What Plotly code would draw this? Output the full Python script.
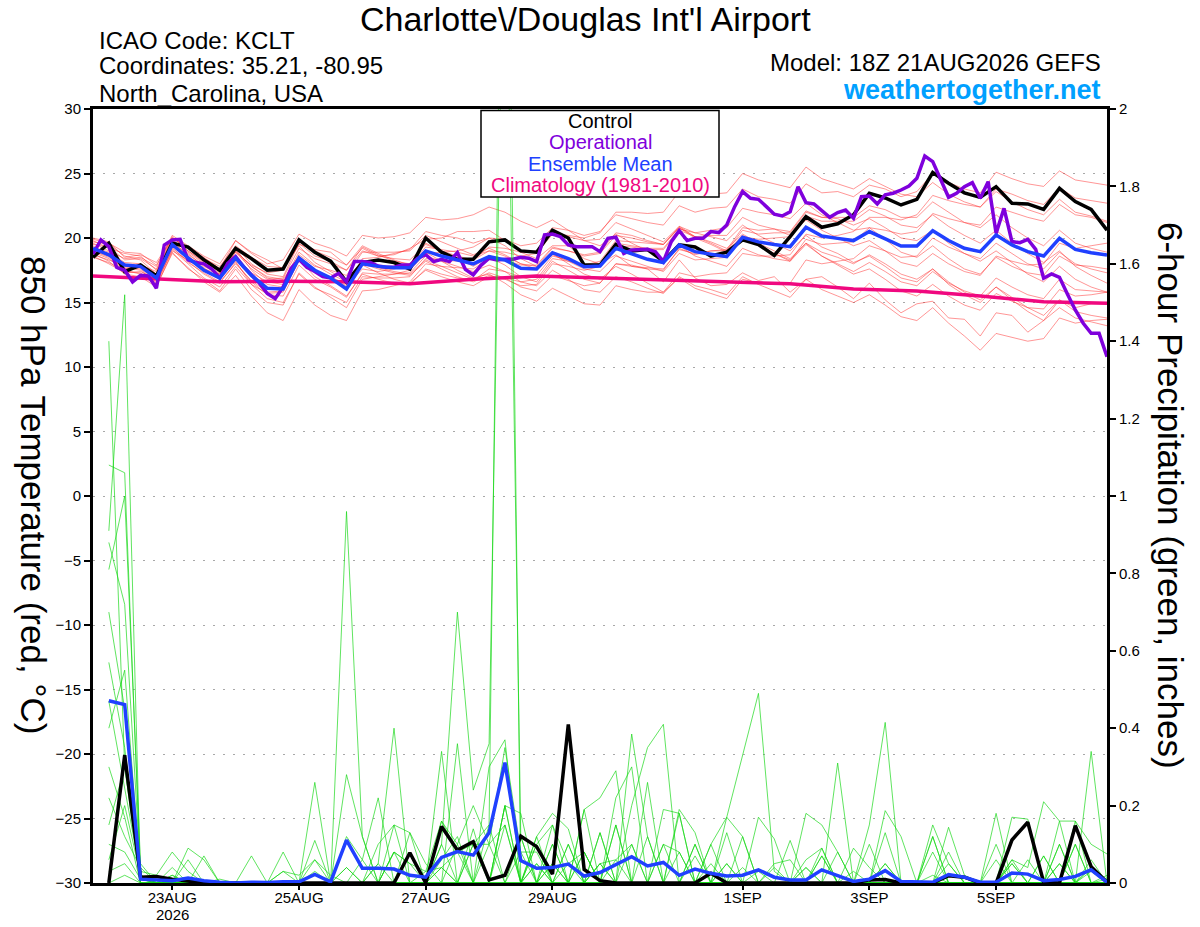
import pandas as pd
import plotly.graph_objects as go

# ── Datos ──────────────────────────────────────────────────────────────────────
run_start = "2026-08-21 18:00"
t6 = pd.date_range(run_start, periods=65, freq="6h")      # temperatura 0-384 h
tp = t6[1:]                                               # precip 6 h, 6-384 h
t3 = pd.date_range(run_start, periods=129, freq="3h")     # corrida operacional
tday = pd.date_range(run_start, periods=17, freq="1D")    # climatología

temp_control = [
    18.5, 19.6, 17.4, 17.9, 17.05, 19.6, 19.3, 18.3, 17.5,
    19.2, 18.4, 17.5, 17.6, 19.85, 18.9, 18.2, 16.6,
    18.1, 18.3, 18.1, 17.6, 20.0, 18.9, 18.35, 18.35,
    19.7, 19.85, 19.0, 18.9, 20.6, 20.0, 17.9, 17.9,
    19.5, 19.0, 19.1, 18.2, 19.46, 19.3, 18.6, 18.9,
    19.85, 19.5, 18.65, 20.1, 21.65, 20.83, 21.1, 21.8,
    23.46, 23.1, 22.56, 23.0, 25.07, 24.24, 23.5, 23.15,
    23.98, 22.69, 22.64, 22.22, 23.85, 22.82, 22.22, 20.6,
]
temp_mean = [
    19.2, 18.7, 17.9, 17.8, 16.9, 19.5, 18.45, 17.5, 16.9,
    18.45, 17.1, 16.1, 16.05, 18.45, 17.5, 16.9, 16.05,
    18.0, 17.8, 17.7, 17.7, 19.0, 18.6, 18.3, 18.0,
    18.55, 18.3, 17.65, 17.6, 18.86, 18.4, 17.78, 17.83,
    19.2, 18.76, 18.35, 18.1, 19.46, 18.94, 18.76, 18.55,
    20.05, 19.7, 19.5, 19.33, 20.83, 20.15, 19.97, 19.8,
    20.5, 19.97, 19.38, 19.38, 20.57, 19.8, 19.2, 18.94,
    20.23, 19.46, 18.94, 18.6, 19.97, 19.12, 18.86, 18.68,
]
temp_oper = [
    18.76, 19.85, 19.33, 17.73, 17.5, 16.6, 17.1, 17.06, 16.1,
    19.46, 19.85, 19.9, 18.3, 18.1, 18.0, 17.6, 16.9,
    18.04, 18.56, 17.78, 17.14, 16.5, 15.7, 15.3, 16.2,
    17.65, 18.35, 17.73, 17.4, 17.0, 16.9, 17.26, 16.6,
    18.17, 18.17, 18.1, 17.83, 17.73, 17.73, 17.9, 17.9,
    18.43, 18.7, 18.17, 18.35, 18.17, 18.87, 17.57, 17.14,
    17.9, 18.43, 18.3, 18.35, 18.35, 18.5, 18.43, 18.17,
    20.24, 20.31, 20.1, 19.46, 19.33, 19.33, 19.33, 18.94,
    19.98, 20.06, 18.8, 19.07, 19.07, 19.12, 18.94, 18.17,
    19.72, 20.57, 19.8, 19.98, 19.98, 20.5, 20.42, 21.01,
    22.43, 23.6, 23.08, 23.0, 22.43, 21.84, 21.71, 22.04,
    23.98, 22.74, 22.64, 22.12, 21.6, 21.97, 22.17, 21.53,
    23.2, 23.26, 22.64, 23.34, 23.47, 23.72, 24.03, 24.63,
    26.36, 25.92, 24.55, 23.16, 23.47, 23.98, 24.29, 23.08,
    24.37, 20.36, 22.3, 19.72, 19.64, 19.9, 19.12, 16.88,
    17.21, 16.95, 15.66, 14.42, 13.39, 12.61, 12.61, 10.8,
]
temp_clim = [17.05, 16.85, 16.6, 16.65, 16.6, 16.45, 16.8, 17.05, 16.9,
             16.8, 16.6, 16.45, 16.05, 15.9, 15.5, 15.05, 14.95]

temp_members = [
    [20.0, 19.7, 18.5, 18.7, 18.1, 20.0, 19.3, 18.5, 17.6,
     19.8, 18.9, 18.3, 17.6, 19.5, 19.1, 18.9, 17.9,
     19.2, 18.6, 18.7, 19.2, 19.9, 20.0, 20.5, 20.5,
     20.6, 19.8, 18.9, 18.4, 19.4, 19.4, 18.4, 18.0,
     18.7, 17.8, 17.6, 16.6, 18.3, 16.9, 16.3, 16.4,
     17.3, 16.7, 17.0, 15.8, 16.8, 17.0, 16.2, 15.3,
     16.5, 15.2, 14.2, 14.9, 15.1, 13.8, 13.7, 12.4,
     14.2, 14.0, 12.7, 13.6, 15.2, 14.6, 14.9, 14.9],
    [18.8, 18.2, 17.2, 17.0, 16.2, 18.9, 17.6, 16.8, 15.9,
     17.6, 16.0, 15.0, 14.8, 17.3, 16.2, 15.4, 14.6,
     16.8, 17.0, 17.2, 17.5, 18.8, 18.9, 19.0, 19.3,
     20.0, 19.9, 19.4, 19.6, 20.8, 20.6, 20.2, 20.5,
     21.8, 21.5, 21.2, 21.0, 22.5, 22.0, 22.3, 22.4,
     23.8, 23.2, 23.0, 22.7, 24.2, 23.5, 23.6, 23.2,
     24.1, 23.8, 23.2, 23.6, 25.0, 24.3, 23.8, 23.5,
     25.1, 24.6, 24.2, 24.0, 25.2, 24.5, 24.3, 24.1],
    [19.5, 19.3, 18.3, 18.4, 17.6, 20.1, 19.0, 18.1, 17.4,
     19.3, 18.0, 17.2, 17.0, 19.6, 18.6, 18.2, 17.5,
     19.3, 18.7, 18.2, 18.0, 19.6, 19.0, 18.4, 17.8,
     18.5, 17.9, 17.0, 16.6, 18.2, 17.5, 16.8, 16.5,
     18.0, 17.9, 17.6, 17.5, 19.2, 18.7, 19.0, 19.1,
     20.8, 20.6, 20.7, 20.5, 22.1, 21.6, 21.5, 21.0,
     21.5, 20.8, 20.0, 19.8, 20.6, 19.6, 18.8, 18.2,
     19.0, 18.1, 17.2, 16.6, 17.8, 16.8, 16.2, 15.8],
    [18.9, 18.4, 17.5, 17.2, 16.3, 18.8, 17.7, 16.6, 15.8,
     17.1, 15.5, 14.2, 13.6, 16.0, 14.8, 14.0, 13.6,
     15.9, 16.0, 16.3, 16.6, 18.0, 17.8, 17.7, 17.6,
     18.4, 18.3, 17.9, 17.9, 19.3, 19.0, 18.6, 18.8,
     20.2, 20.0, 19.7, 19.5, 20.9, 20.4, 20.1, 19.8,
     21.0, 20.2, 19.6, 19.0, 20.2, 19.3, 18.8, 18.1,
     18.6, 17.8, 16.9, 16.6, 17.6, 16.4, 15.6, 15.0,
     16.2, 15.4, 14.6, 14.0, 15.2, 14.3, 14.0, 13.8],
    [19.6, 19.0, 18.4, 18.5, 17.8, 20.2, 19.4, 18.6, 18.0,
     19.8, 18.8, 18.0, 18.3, 20.3, 19.6, 19.2, 18.6,
     20.2, 20.0, 20.1, 20.4, 21.6, 21.4, 21.5, 21.8,
     22.4, 22.0, 21.3, 20.8, 21.4, 20.6, 19.8, 19.4,
     20.3, 19.6, 19.0, 18.4, 19.4, 18.6, 18.2, 17.8,
     19.2, 18.7, 18.4, 18.2, 19.9, 19.5, 19.6, 19.7,
     20.8, 20.6, 20.3, 20.5, 21.9, 21.5, 21.2, 21.0,
     22.4, 22.0, 21.6, 21.3, 22.6, 21.8, 21.6, 21.2],
    [19.0, 18.5, 17.7, 17.5, 16.5, 19.2, 18.2, 17.2, 16.5,
     18.1, 16.6, 15.6, 15.5, 17.9, 16.8, 16.2, 15.4,
     17.3, 17.2, 17.2, 17.3, 18.6, 18.2, 17.8, 17.4,
     17.9, 17.4, 16.6, 16.3, 17.5, 16.8, 16.0, 15.8,
     17.0, 16.6, 16.1, 15.7, 17.0, 16.3, 16.0, 15.6,
     17.0, 16.4, 15.9, 15.4, 16.8, 16.0, 15.5, 15.0,
     15.6, 14.8, 13.9, 13.6, 14.6, 13.4, 12.4, 11.3,
     12.6, 12.3, 12.0, 12.2, 13.8, 13.4, 13.6, 13.7],
    [19.8, 19.2, 18.8, 18.6, 17.5, 19.9, 18.9, 18.0, 17.5,
     19.0, 17.8, 16.9, 16.6, 18.9, 17.9, 17.2, 16.6,
     18.3, 17.7, 17.4, 17.2, 18.3, 17.8, 17.3, 16.8,
     17.3, 16.9, 16.2, 15.9, 17.1, 16.7, 16.3, 16.5,
     18.0, 17.8, 17.7, 17.6, 19.1, 18.8, 19.0, 19.0,
     20.6, 20.3, 20.4, 20.4, 22.0, 21.6, 21.6, 21.6,
     22.5, 22.2, 21.6, 21.6, 22.8, 22.0, 21.2, 20.8,
     21.8, 20.8, 20.0, 19.4, 20.6, 19.6, 19.2, 18.9],
    [18.6, 18.0, 17.3, 17.4, 16.8, 19.8, 19.0, 18.2, 17.6,
     19.2, 17.5, 16.4, 16.2, 18.4, 17.0, 16.3, 15.5,
     17.2, 16.8, 16.5, 16.4, 17.6, 17.2, 16.9, 16.7,
     17.6, 17.4, 17.0, 17.1, 18.6, 18.3, 17.9, 18.0,
     19.6, 19.4, 19.2, 19.2, 20.7, 20.4, 20.6, 20.8,
     22.3, 22.0, 21.8, 21.5, 22.7, 21.8, 21.2, 20.6,
     20.8, 19.9, 18.9, 18.5, 19.4, 18.4, 17.6, 17.2,
     18.5, 17.8, 17.3, 17.1, 18.6, 17.9, 17.8, 17.6],
    [19.3, 18.9, 18.1, 18.0, 17.2, 19.6, 18.8, 17.8, 17.2,
     18.9, 17.6, 16.8, 16.9, 19.2, 18.4, 18.0, 17.5,
     19.0, 18.6, 18.4, 18.3, 19.5, 19.0, 18.6, 18.3,
     19.0, 18.9, 18.6, 18.8, 20.3, 20.2, 20.0, 20.4,
     22.0, 22.0, 21.9, 22.0, 23.6, 23.2, 23.4, 23.5,
     25.0, 24.5, 24.2, 23.9, 25.5, 24.6, 24.2, 23.8,
     24.6, 24.0, 23.4, 23.2, 24.3, 23.4, 22.8, 22.4,
     23.6, 22.8, 22.2, 21.8, 23.0, 22.0, 21.7, 21.3],
    [19.4, 18.6, 17.6, 17.9, 17.0, 19.3, 18.1, 17.3, 16.6,
     18.0, 16.7, 15.8, 15.9, 18.2, 17.3, 16.9, 16.3,
     18.4, 18.5, 18.8, 19.1, 20.5, 20.2, 20.0, 19.6,
     20.0, 19.4, 18.4, 17.8, 18.8, 18.0, 17.2, 16.8,
     17.8, 17.2, 16.5, 15.8, 16.9, 16.1, 15.7, 15.3,
     16.8, 16.5, 16.4, 16.5, 18.3, 18.0, 18.2, 18.4,
     19.4, 19.0, 18.5, 18.6, 20.0, 19.3, 18.8, 18.4,
     19.6, 18.8, 18.0, 17.6, 18.9, 18.0, 17.6, 17.3],
    [18.7, 18.3, 17.8, 17.6, 16.6, 19.0, 18.3, 17.6, 17.2,
     18.9, 17.9, 17.3, 17.5, 19.8, 19.0, 18.5, 17.9,
     19.4, 18.8, 18.3, 17.9, 18.9, 18.2, 17.5, 16.9,
     17.2, 16.5, 15.6, 15.1, 16.1, 15.5, 14.9, 14.8,
     16.3, 16.0, 15.8, 15.8, 17.3, 17.0, 17.2, 17.3,
     18.8, 18.6, 18.6, 18.7, 20.3, 20.0, 20.2, 20.5,
     21.6, 21.6, 21.4, 21.8, 23.3, 22.9, 22.6, 22.4,
     23.8, 23.4, 22.9, 22.6, 23.9, 23.1, 22.9, 22.7],
    [19.1, 18.8, 18.0, 17.7, 16.7, 19.4, 18.6, 17.7, 16.8,
     18.2, 16.4, 15.3, 15.0, 17.2, 16.1, 15.6, 15.0,
     17.0, 16.9, 16.9, 17.0, 18.4, 18.3, 18.2, 18.3,
     19.3, 19.2, 18.9, 19.0, 20.4, 20.1, 19.8, 19.9,
     21.2, 20.7, 20.2, 19.7, 20.9, 20.1, 19.6, 19.0,
     20.2, 19.4, 18.8, 18.2, 19.5, 18.6, 18.0, 17.4,
     18.1, 17.4, 16.6, 16.3, 17.4, 16.5, 15.9, 15.5,
     16.9, 16.2, 15.6, 15.3, 16.8, 16.0, 15.9, 15.8],
    [19.7, 19.5, 18.6, 18.3, 17.2, 19.7, 18.7, 17.9, 17.3,
     18.6, 17.3, 16.6, 16.4, 18.7, 17.8, 17.5, 17.1,
     18.9, 18.9, 18.9, 19.0, 20.2, 19.7, 19.2, 18.7,
     19.2, 18.7, 18.0, 17.8, 19.2, 19.0, 18.7, 18.9,
     20.4, 20.2, 19.8, 19.5, 20.8, 20.0, 19.5, 18.9,
     20.1, 19.4, 18.8, 18.3, 19.6, 18.9, 18.5, 18.0,
     18.7, 18.0, 17.2, 16.8, 17.6, 16.6, 15.8, 15.2,
     16.2, 15.2, 14.3, 13.6, 14.6, 13.8, 13.5, 13.2],
    [18.5, 18.1, 17.4, 17.3, 16.4, 19.1, 18.0, 16.9, 16.2,
     17.8, 16.4, 15.7, 15.8, 18.3, 17.4, 17.0, 16.4,
     18.0, 17.6, 17.3, 17.1, 18.2, 17.6, 17.0, 16.6,
     17.1, 16.8, 16.3, 16.4, 18.0, 17.8, 17.5, 17.8,
     19.4, 19.3, 19.1, 19.1, 20.6, 20.1, 20.2, 20.2,
     21.6, 21.0, 20.7, 20.2, 21.4, 20.6, 20.0, 19.4,
     19.8, 19.0, 18.1, 17.8, 18.8, 18.0, 17.4, 17.1,
     18.6, 18.2, 17.9, 18.0, 19.6, 19.2, 19.4, 19.6],
    [19.9, 19.6, 18.9, 18.8, 17.9, 20.0, 19.2, 18.4, 17.8,
     19.4, 18.5, 17.8, 17.7, 19.4, 18.1, 17.4, 16.7,
     17.9, 17.3, 16.8, 16.5, 17.5, 17.0, 16.6, 16.3,
     17.0, 16.9, 16.6, 16.8, 18.4, 18.2, 17.9, 18.2,
     19.8, 19.7, 19.6, 19.5, 20.8, 20.1, 19.7, 19.2,
     20.3, 19.6, 19.0, 18.4, 19.6, 18.6, 17.9, 17.2,
     17.6, 16.8, 15.9, 15.5, 16.4, 15.5, 14.8, 14.4,
     15.7, 15.1, 14.6, 14.5, 16.0, 15.5, 15.6, 15.8],
    [19.0, 18.6, 17.9, 17.9, 17.4, 20.0, 19.2, 18.4, 17.6,
     19.0, 17.8, 17.0, 16.8, 18.6, 17.5, 16.9, 16.2,
     17.6, 17.4, 17.6, 17.9, 19.3, 19.1, 18.9, 18.6,
     19.0, 18.6, 18.0, 17.6, 18.7, 18.2, 17.6, 17.4,
     18.6, 18.2, 17.8, 17.4, 18.8, 18.3, 18.4, 18.5,
     20.1, 19.9, 20.0, 20.1, 21.7, 21.3, 21.3, 21.3,
     22.2, 21.7, 21.0, 20.8, 21.8, 20.9, 20.2, 19.6,
     20.6, 19.6, 18.8, 18.1, 19.0, 17.8, 17.1, 16.5],
]

prcp_control = [
    0, 0.33, 0.015, 0.017, 0.01, 0.004, 0, 0,
    0, 0, 0, 0, 0, 0, 0, 0,
    0, 0, 0, 0.078, 0, 0.146, 0.085, 0.107,
    0.008, 0.02, 0.121, 0.094, 0.023, 0.41, 0.035, 0.006,
    0, 0, 0, 0, 0, 0, 0.025, 0,
    0, 0, 0, 0, 0, 0, 0, 0,
    0.008, 0.009, 0, 0, 0, 0.019, 0.015, 0,
    0, 0.111, 0.157, 0.002, 0, 0.148, 0.042, 0.002,
]
prcp_mean = [
    0.471, 0.461, 0.01, 0.008, 0.006, 0.013, 0.006, 0.002,
    0, 0.002, 0.001, 0.003, 0.003, 0.022, 0.003, 0.111,
    0.038, 0.038, 0.036, 0.02, 0.015, 0.066, 0.081, 0.072,
    0.13, 0.311, 0.058, 0.038, 0.04, 0.049, 0.018, 0.027,
    0.047, 0.068, 0.044, 0.053, 0.02, 0.036, 0.025, 0.018,
    0.02, 0.034, 0.015, 0.008, 0.008, 0.034, 0.019, 0.004,
    0.01, 0.032, 0.004, 0.003, 0.002, 0.022, 0.015, 0.002,
    0.002, 0.026, 0.023, 0.006, 0.009, 0.017, 0.034, 0.002,
]
prcp_members = [
    [1.40, 0.30, 0.02, 0, 0, 0, 0, 0, 0, 0, 0, 0, 0, 0.03, 0, 0.96,
     0.12, 0, 0, 0, 0, 0.06, 0.12, 0, 0.10, 0.35, 0.08, 0, 0.05, 0, 0, 0.05,
     0.06, 0.10, 0, 0, 0, 0, 0.05, 0, 0, 0, 0, 0, 0, 0, 0, 0,
     0, 0, 0, 0, 0.02, 0, 0, 0, 0, 0, 0, 0, 0.05, 0, 0, 0],
    [0.91, 1.52, 0, 0, 0.04, 0, 0, 0, 0, 0, 0, 0, 0, 0, 0, 0.04,
     0, 0.05, 0.40, 0, 0, 0.04, 0, 0.10, 0.15, 3.3, 0, 0.05, 0, 0, 0.08, 0,
     0, 0.385, 0.12, 0, 0, 0.07, 0, 0, 0.04, 0, 0, 0, 0.04, 0, 0, 0.03,
     0, 0, 0, 0, 0, 0, 0, 0, 0, 0.17, 0.165, 0, 0, 0, 0.03, 0],
    [1.08, 1.06, 0.01, 0, 0, 0.09, 0.06, 0, 0, 0, 0, 0.08, 0, 0.11, 0, 0.12,
     0.06, 0.22, 0, 0.08, 0, 0.34, 0, 0.14, 0, 0.20, 0.18, 0, 0.10, 0, 0.19, 0.22,
     0.29, 0, 0, 0.10, 0.08, 0, 0.10, 0.17, 0.33, 0.49, 0.03, 0, 0, 0.07, 0, 0,
     0, 0.05, 0, 0, 0, 0, 0, 0, 0, 0, 0, 0.07, 0, 0.10, 0, 0],
    [0.88, 0.72, 0.03, 0.02, 0.08, 0.03, 0, 0, 0, 0.07, 0, 0, 0, 0.26, 0, 0.28,
     0.12, 0, 0.08, 0, 0, 0.10, 0.70, 0.24, 0.36, 2.7, 0.12, 0, 0, 0, 0, 0,
     0, 0.20, 0.35, 0.41, 0, 0, 0, 0.05, 0, 0, 0, 0.11, 0, 0, 0.31, 0,
     0, 0, 0, 0, 0, 0, 0, 0, 0.18, 0, 0, 0, 0, 0, 0.34, 0],
    [0.81, 1.00, 0.05, 0, 0, 0, 0.07, 0, 0, 0, 0, 0.03, 0.02, 0.06, 0.02, 0,
     0, 0.10, 0.15, 0.13, 0.05, 0, 0.36, 0, 0.30, 0.37, 0, 0.12, 0.18, 0.14, 0, 0.13,
     0, 0, 0.26, 0, 0.19, 0.13, 0, 0.17, 0.12, 0, 0, 0, 0.06, 0.09, 0, 0,
     0.15, 0.415, 0, 0, 0, 0.08, 0, 0, 0, 0, 0, 0, 0.10, 0, 0.04, 0],
    [0.70, 0.45, 0, 0, 0.02, 0, 0, 0.01, 0, 0, 0, 0, 0, 0, 0, 0,
     0, 0, 0.08, 0.05, 0.03, 0.16, 0.10, 0.20, 0.10, 0.15, 0, 0.10, 0.15, 0.05, 0.08, 0,
     0.22, 0.30, 0, 0.19, 0.18, 0, 0, 0.13, 0, 0.17, 0.114, 0, 0.18, 0.15, 0.08, 0,
     0, 0.187, 0.12, 0, 0, 0.144, 0.02, 0, 0, 0.06, 0.04, 0.21, 0.16, 0.16, 0.10, 0.075],
    [0.57, 0.35, 0, 0, 0, 0.06, 0, 0, 0, 0, 0, 0, 0, 0, 0, 0,
     0, 0, 0, 0, 0, 0.04, 0.08, 0.10, 0.10, 0, 0.08, 0.08, 0, 0.10, 0, 0,
     0.15, 0, 0, 0, 0, 0.10, 0, 0, 0, 0, 0, 0, 0, 0, 0, 0,
     0, 0, 0, 0, 0.15, 0.05, 0, 0, 0, 0, 0, 0, 0, 0, 0, 0],
    [0.47, 0.25, 0.02, 0, 0, 0, 0, 0, 0, 0, 0, 0, 0, 0, 0, 0,
     0, 0, 0, 0, 0, 0, 0, 0, 0, 0.20, 0, 0, 0.05, 0, 0, 0,
     0, 0.10, 0, 0, 0, 0, 0, 0, 0, 0, 0, 0, 0, 0.07, 0, 0,
     0, 0, 0, 0, 0, 0, 0, 0, 0, 0, 0, 0, 0, 0, 0, 0],
    [0.40, 0.55, 0.01, 0, 0.02, 0, 0, 0, 0, 0, 0, 0, 0, 0, 0, 0,
     0, 0, 0, 0, 0, 0, 0, 0, 0, 0, 0, 0, 0, 0, 0, 0.05,
     0, 0, 0, 0, 0, 0, 0, 0, 0, 0, 0, 0, 0, 0, 0, 0,
     0, 0, 0, 0, 0, 0, 0, 0, 0, 0, 0, 0, 0, 0, 0, 0],
    [0.30, 0.17, 0, 0, 0, 0, 0, 0, 0, 0, 0, 0, 0, 0, 0, 0,
     0, 0, 0, 0, 0, 0, 0, 0, 0, 0, 0, 0.05, 0, 0.05, 0, 0,
     0, 0, 0.12, 0, 0, 0, 0, 0, 0, 0, 0, 0, 0, 0, 0, 0,
     0, 0, 0, 0, 0, 0, 0, 0, 0, 0, 0, 0, 0, 0, 0, 0],
    [0.22, 0.12, 0.04, 0, 0, 0, 0, 0, 0, 0, 0, 0, 0, 0, 0, 0,
     0, 0, 0.08, 0.05, 0, 0, 0, 0, 0, 0, 0, 0, 0.10, 0, 0, 0,
     0, 0, 0, 0, 0, 0.10, 0, 0, 0, 0, 0.05, 0.06, 0, 0, 0, 0,
     0, 0, 0, 0, 0.12, 0, 0, 0, 0.10, 0, 0, 0, 0.05, 0, 0, 0],
    [0.15, 0.30, 0, 0, 0, 0, 0, 0, 0, 0, 0, 0, 0, 0, 0, 0,
     0.06, 0, 0, 0, 0.03, 0.04, 0, 0, 0, 0, 0, 0.12, 0, 0, 0.08, 0,
     0.06, 0, 0, 0, 0.08, 0, 0, 0.05, 0, 0.03, 0, 0, 0, 0.09, 0, 0.09,
     0.04, 0, 0, 0, 0.08, 0, 0, 0, 0, 0.05, 0, 0, 0, 0.10, 0, 0],
    [0.10, 0.08, 0.01, 0, 0, 0, 0, 0, 0, 0, 0, 0, 0, 0.06, 0, 0.04,
     0, 0.05, 0, 0.08, 0, 0, 0, 0.10, 0, 0.15, 0, 0, 0.15, 0, 0, 0.05,
     0, 0, 0, 0.10, 0, 0, 0.10, 0, 0, 0, 0, 0, 0.04, 0, 0, 0,
     0, 0.05, 0, 0, 0, 0.05, 0, 0, 0.06, 0, 0, 0, 0.10, 0, 0.06, 0],
    [0.06, 0.20, 0.02, 0, 0, 0, 0, 0, 0, 0, 0, 0.03, 0, 0, 0, 0,
     0, 0, 0, 0, 0, 0.10, 0, 0, 0.15, 0, 0, 0.10, 0, 0.10, 0, 0,
     0.15, 0, 0, 0, 0.18, 0, 0, 0, 0.12, 0, 0, 0, 0, 0, 0, 0,
     0.10, 0, 0, 0, 0, 0, 0, 0, 0, 0.06, 0, 0.07, 0, 0.16, 0, 0.02],
    [0.03, 0.05, 0, 0, 0, 0, 0, 0, 0, 0, 0, 0, 0, 0, 0, 0,
     0, 0, 0.15, 0, 0, 0, 0.10, 0, 0, 0.20, 0, 0, 0, 0, 0.19, 0,
     0, 0, 0, 0, 0, 0, 0, 0, 0, 0, 0.04, 0, 0, 0, 0.08, 0,
     0, 0.13, 0, 0, 0, 0, 0, 0, 0, 0, 0.06, 0, 0, 0, 0.04, 0],
    [0, 0.02, 0, 0, 0, 0, 0, 0, 0, 0, 0, 0, 0, 0, 0, 0,
     0, 0, 0, 0.13, 0, 0.16, 0.08, 0, 0, 0, 0.12, 0, 0, 0, 0, 0.13,
     0, 0, 0, 0, 0, 0, 0, 0, 0, 0, 0, 0, 0, 0, 0, 0,
     0, 0, 0, 0, 0.12, 0, 0, 0, 0, 0.05, 0, 0, 0.16, 0, 0, 0.01],
]

tick_dates = ["2026-08-23", "2026-08-25", "2026-08-27", "2026-08-29",
              "2026-09-01", "2026-09-03", "2026-09-05"]
tick_text = ["23AUG", "25AUG", "27AUG", "29AUG", "1SEP", "3SEP", "5SEP"]

assert all(len(m) == len(t6) for m in temp_members + [temp_control, temp_mean])
assert all(len(m) == len(tp) for m in prcp_members + [prcp_control, prcp_mean])
assert len(temp_oper) == len(t3) and len(temp_clim) == len(tday)

# ── Colores ────────────────────────────────────────────────────────────────────
C_RED = "rgba(255,40,40,0.62)"
C_GREEN = "rgba(20,215,20,0.85)"
C_OPER = "#7F00DC"
C_MEAN = "#2040FF"
C_CLIM = "#F0087F"
FONT = "Liberation Sans, Arial, Helvetica, sans-serif"

fig = go.Figure()

for m in temp_members:
    fig.add_trace(go.Scatter(x=t6, y=m, mode="lines",
                             line=dict(color=C_RED, width=0.8),
                             hoverinfo="skip", showlegend=False))
fig.add_trace(go.Scatter(x=tday, y=temp_clim, mode="lines",
                         line=dict(color=C_CLIM, width=3.5), showlegend=False))
fig.add_trace(go.Scatter(x=t6, y=temp_control, mode="lines",
                         line=dict(color="black", width=3.5), showlegend=False))
fig.add_trace(go.Scatter(x=t3, y=temp_oper, mode="lines",
                         line=dict(color=C_OPER, width=3.5), showlegend=False))
fig.add_trace(go.Scatter(x=t6, y=temp_mean, mode="lines",
                         line=dict(color=C_MEAN, width=3.5), showlegend=False))

for m in prcp_members:
    fig.add_trace(go.Scatter(x=tp, y=m, mode="lines", yaxis="y2",
                             line=dict(color=C_GREEN, width=0.8),
                             hoverinfo="skip", showlegend=False))
fig.add_trace(go.Scatter(x=tp, y=prcp_control, mode="lines", yaxis="y2",
                         line=dict(color="black", width=3.5), showlegend=False))
fig.add_trace(go.Scatter(x=tp, y=prcp_mean, mode="lines", yaxis="y2",
                         line=dict(color=C_MEAN, width=3.5), showlegend=False))

# ── Posiciones en píxeles -> coordenadas paper ─────────────────────────────────
L, R, T, B = 93, 1107, 109, 883


def px(x):
    return (x - L) / (R - L)


def py(y):
    return (B - y) / (B - T)


def note(text, x, y, size, anchor="center", color="black", angle=0, **kw):
    fig.add_annotation(text=text, x=px(x), y=py(y), xref="paper", yref="paper",
                       xanchor=anchor, yanchor="middle", showarrow=False,
                       textangle=angle, font=dict(size=size, color=color, family=FONT), **kw)


note("Charlotte\\/Douglas Int'l Airport", 585, 19, 34)
note("ICAO Code: KCLT", 97, 40, 24, anchor="left")
note("Coordinates: 35.21, -80.95", 97, 66, 24, anchor="left")
note("North_Carolina, USA", 97, 93, 24, anchor="left")
note("Model: 18Z 21AUG2026 GEFS", 1103, 63, 24, anchor="right")
note("<b>weathertogether.net</b>", 1103, 90, 27, anchor="right", color="#00A0FF")
note("850 hPa Temperature (red, °C)", 33, 495, 35, angle=90)
note("6-hour Precipitation (green, inches)", 1170, 495, 35, angle=90)

# leyenda
fig.add_shape(type="rect", xref="paper", yref="paper",
              x0=px(481), x1=px(719), y0=py(197), y1=py(110.5),
              line=dict(color="black", width=1.5), fillcolor="white", layer="above")
note("Control", 600, 121, 20)
note("Operational", 600, 142, 20, color=C_OPER)
note("Ensemble Mean", 600, 164, 20, color=C_MEAN)
note("Climatology (1981-2010)", 600, 185, 20, color=C_CLIM)

fig.add_annotation(text="2026", x=pd.Timestamp("2026-08-23"), y=py(915), xref="x", yref="paper",
                   showarrow=False, yanchor="middle", font=dict(size=15, family=FONT))

fig.update_layout(
    width=1200, height=927,
    margin=dict(l=L, r=1200 - R, t=T, b=927 - B),
    paper_bgcolor="white", plot_bgcolor="white",
    font=dict(family=FONT, color="black", size=15),
    showlegend=False,
    xaxis=dict(range=[t6[0], t6[-1]], tickvals=pd.to_datetime(tick_dates), ticktext=tick_text,
               ticks="outside", ticklen=4, tickwidth=1.5, tickcolor="black",
               ticklabelstandoff=-5,
               showline=True, linewidth=3, linecolor="black", mirror=True,
               showgrid=False, zeroline=False, tickfont=dict(size=15)),
    yaxis=dict(range=[-30, 30], tick0=-30, dtick=5, ticks="outside", ticklen=6,
               tickwidth=1.5, tickcolor="black", showline=True, linewidth=3,
               linecolor="black", mirror=True, showgrid=True, gridcolor="#a8a8a8",
               griddash="2px,8px", gridwidth=1.2, zeroline=False, tickfont=dict(size=15)),
    yaxis2=dict(range=[0, 2], tick0=0, dtick=0.2, overlaying="y", side="right",
                ticks="outside", ticklen=6, tickwidth=1.5, tickcolor="black",
                showline=True, linewidth=3, linecolor="black", showgrid=False,
                zeroline=False, tickfont=dict(size=15)),
)

# la página por defecto trae margen de 8 px en <body>; se quita para que la figura
# ocupe exactamente la ventana
fig.write_html("out.html", config={"displayModeBar": False},
               post_script="document.body.style.margin='0px';")
